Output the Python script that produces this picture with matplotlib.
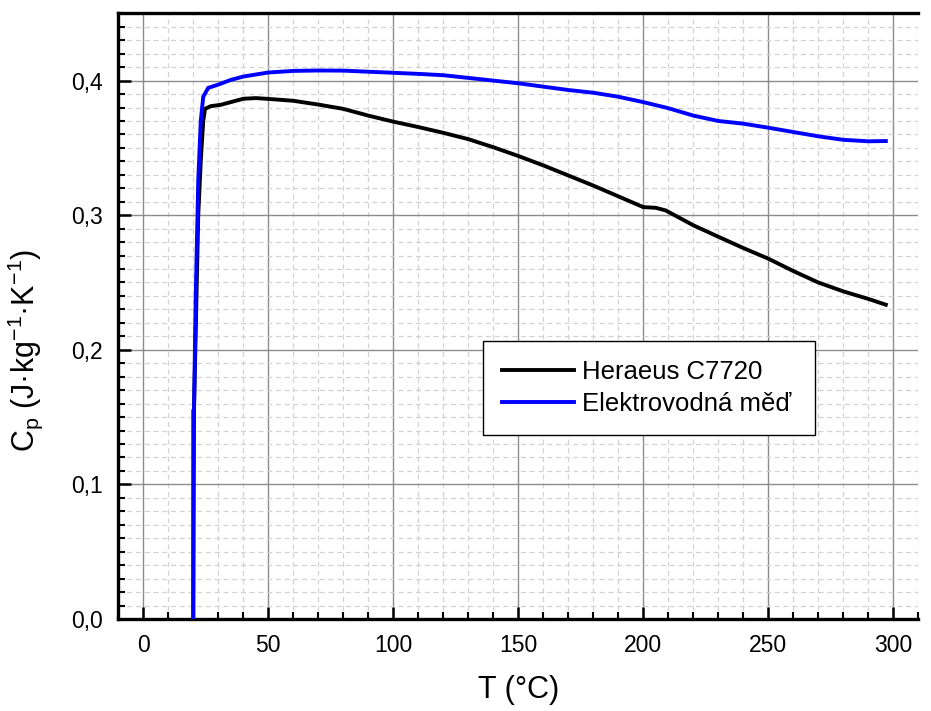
import matplotlib
matplotlib.use("Agg")
import matplotlib.pyplot as plt
from matplotlib.ticker import MultipleLocator, FuncFormatter

plt.rcParams['font.family'] = ['Liberation Sans', 'DejaVu Sans']
plt.rcParams['mathtext.fontset'] = 'custom'
plt.rcParams['mathtext.rm'] = 'Liberation Sans'
plt.rcParams['mathtext.it'] = 'Liberation Sans'

# Heraeus C7720 (black)
t_black = [20, 20.3, 22, 23, 24, 24.7, 27, 31, 35, 40, 45, 50, 60, 70, 80, 90, 100,
           110, 120, 130, 140, 150, 160, 170, 180, 190, 200, 205, 209, 215, 220, 230,
           240, 250, 260, 270, 280, 290, 297]
cp_black = [0.0, 0.155, 0.30, 0.34, 0.37, 0.379, 0.381, 0.382, 0.384, 0.3865, 0.387,
            0.3864, 0.385, 0.3822, 0.379, 0.374, 0.3695, 0.3655, 0.3612, 0.3565, 0.3505,
            0.344, 0.337, 0.3295, 0.322, 0.314, 0.306, 0.3055, 0.3035, 0.2975, 0.2925,
            0.284, 0.2756, 0.2677, 0.2585, 0.2500, 0.2434, 0.2378, 0.2335]

# Elektrovodná měď (blue)
t_blue = [20, 20, 20.3, 21, 22, 23, 24, 26, 30, 35, 40, 50, 60, 70, 80, 90, 100, 110,
          120, 130, 140, 150, 160, 170, 180, 190, 200, 210, 220, 230, 240, 250, 260,
          270, 280, 290, 297]
cp_blue = [0.0, 0.155, 0.155, 0.24, 0.326, 0.37, 0.388, 0.3946, 0.397, 0.4005, 0.403,
           0.406, 0.4072, 0.4075, 0.4074, 0.4066, 0.4058, 0.405, 0.404, 0.402, 0.400,
           0.398, 0.3955, 0.393, 0.391, 0.388, 0.384, 0.3795, 0.374, 0.370, 0.368,
           0.3650, 0.3618, 0.3586, 0.356, 0.3549, 0.3551]

labels = ['Heraeus C7720', 'Elektrovodná měď']

fig = plt.figure(figsize=(9.31, 7.11), dpi=100)
ax = fig.add_axes([0.127, 0.1294, 0.8594, 0.8519])

ax.plot(t_black, cp_black, color='black', lw=2.8, label=labels[0], zorder=3,
        solid_joinstyle='round')
ax.plot(t_blue, cp_blue, color='#0000ff', lw=2.8, label=labels[1], zorder=4,
        solid_joinstyle='round')

ax.set_xlim(-10, 310)
ax.set_ylim(0, 0.45)
ax.xaxis.set_major_locator(MultipleLocator(50))
ax.xaxis.set_minor_locator(MultipleLocator(10))
ax.yaxis.set_major_locator(MultipleLocator(0.1))
ax.yaxis.set_minor_locator(MultipleLocator(0.01))
ax.yaxis.set_major_formatter(FuncFormatter(lambda v, p: f"{v:.1f}".replace('.', ',')))

ax.grid(which='major', color='#8c8c8c', lw=1.0, ls='-', zorder=0)
ax.grid(which='minor', color='#d2d2d2', lw=0.9, ls=(0, (4, 3)), zorder=0)
ax.set_axisbelow(True)

ax.spines['right'].set_visible(False)
for s in ['left', 'bottom', 'top']:
    ax.spines[s].set_linewidth(2.4)

ax.tick_params(which='major', direction='in', length=9, width=1.8, labelsize=16.5,
               top=False, right=False, pad=11)
ax.tick_params(which='minor', direction='in', length=5, width=1.5, top=False, right=False)

ax.set_xlabel('T (°C)', fontsize=22, labelpad=13)
ax.set_ylabel(r'C$_\mathregular{p}$ (J·kg$^\mathregular{-1}$·K$^\mathregular{-1}$)',
              fontsize=22)
ax.yaxis.set_label_coords(-0.092, 0.444)

leg = ax.legend(loc='lower left', bbox_to_anchor=(0.456, 0.304, 0.415, 0.143),
                mode='expand', fontsize=18.5, handlelength=2.8, handletextpad=0.3,
                borderpad=0.75, labelspacing=0.3, fancybox=False, framealpha=1,
                edgecolor='black', borderaxespad=0)
leg.get_frame().set_linewidth(1.0)
for line in leg.get_lines():
    line.set_linewidth(2.8)

fig.savefig('out.png', dpi=100)
